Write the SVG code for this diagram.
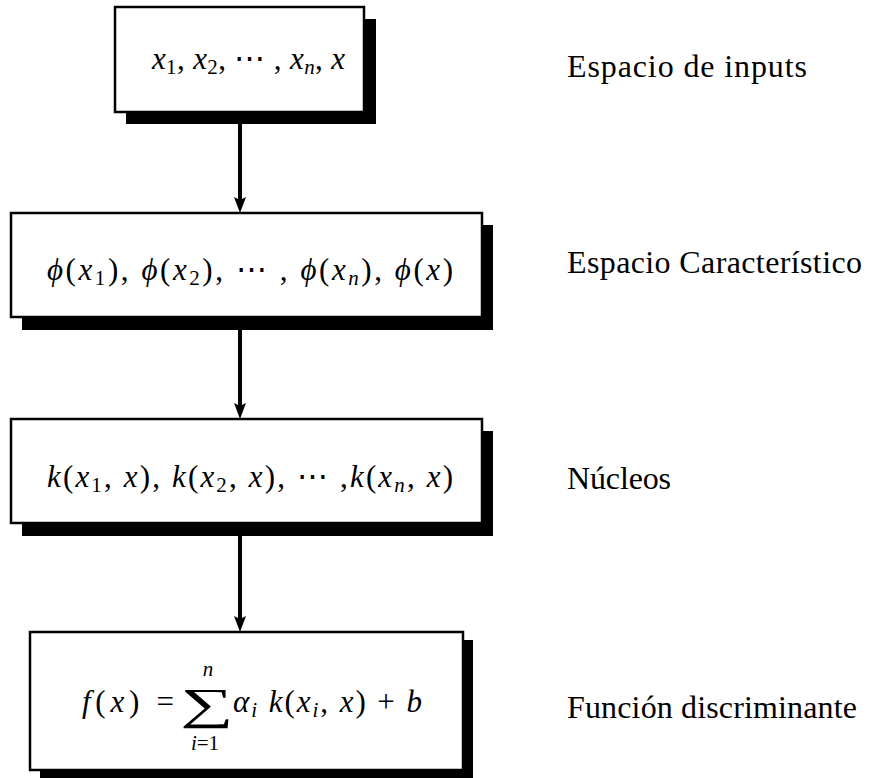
<svg xmlns="http://www.w3.org/2000/svg" width="874" height="778" viewBox="0 0 874 778">
<defs>
<style>
.box{fill:#fff;stroke:#000;stroke-width:2.5}
.sh{fill:#000}
.i{font-style:italic}
.conn line{stroke:#000;stroke-width:4;fill:none}
</style>
<marker id="ah" markerUnits="userSpaceOnUse" viewBox="0 0 16 12" refX="6" refY="6" markerWidth="16" markerHeight="12" orient="auto">
<path d="M0,0 L16,6 L0,12 L3,6 z" fill="#000"/>
</marker>
</defs>
<rect width="874" height="778" fill="#fff"/>
<g class="conn">
<line x1="240" y1="124" x2="240" y2="203" marker-end="url(#ah)"/>
<line x1="240" y1="330" x2="240" y2="409" marker-end="url(#ah)"/>
<line x1="240" y1="536" x2="240" y2="622" marker-end="url(#ah)"/>
</g>
<g font-family="'Liberation Serif', 'DejaVu Serif', serif" font-size="31" fill="#000">
<g id="n1">
<rect class="sh" x="126" y="19" width="250" height="105"/>
<rect class="box" x="115" y="7" width="249" height="105"/>
<text x="152" y="69" textLength="193"><tspan class="i">x</tspan><tspan font-size="21" dy="5">1</tspan><tspan dy="-5">, </tspan><tspan class="i">x</tspan><tspan font-size="21" dy="5">2</tspan><tspan dy="-5">, ⋯ , </tspan><tspan class="i">x</tspan><tspan font-size="21" class="i" dy="5">n</tspan><tspan dy="-5">, </tspan><tspan class="i">x</tspan></text>
</g>
<g id="n2">
<rect class="sh" x="22" y="225" width="471" height="105"/>
<rect class="box" x="11" y="213" width="471" height="104"/>
<text x="47" y="280" textLength="406"><tspan class="i">ϕ</tspan>(<tspan class="i">x</tspan><tspan font-size="21" dy="5">1</tspan><tspan dy="-5">), </tspan><tspan class="i">ϕ</tspan>(<tspan class="i">x</tspan><tspan font-size="21" dy="5">2</tspan><tspan dy="-5">), ⋯ , </tspan><tspan class="i">ϕ</tspan>(<tspan class="i">x</tspan><tspan font-size="21" class="i" dy="5">n</tspan><tspan dy="-5">), </tspan><tspan class="i">ϕ</tspan>(<tspan class="i">x</tspan>)</text>
</g>
<g id="n3">
<rect class="sh" x="22" y="431" width="471" height="105"/>
<rect class="box" x="11" y="419" width="471" height="104"/>
<text x="47" y="487" textLength="406"><tspan class="i">k</tspan>(<tspan class="i">x</tspan><tspan font-size="21" dy="5">1</tspan><tspan dy="-5">, </tspan><tspan class="i">x</tspan>), <tspan class="i">k</tspan>(<tspan class="i">x</tspan><tspan font-size="21" dy="5">2</tspan><tspan dy="-5">, </tspan><tspan class="i">x</tspan>), ⋯ ,<tspan class="i">k</tspan>(<tspan class="i">x</tspan><tspan font-size="21" class="i" dy="5">n</tspan><tspan dy="-5">, </tspan><tspan class="i">x</tspan>)</text>
</g>
<g id="n4">
<rect class="sh" x="40" y="640" width="433" height="138"/>
<rect class="box" x="30" y="632" width="433" height="138"/>
<text x="82" y="712" textLength="92"><tspan class="i">f</tspan>(<tspan class="i">x</tspan>) =</text>
<text transform="translate(207,719) scale(1.7,1)" font-size="44" text-anchor="middle">∑</text>
<text class="i" font-size="21" x="208" y="676" text-anchor="middle">n</text>
<text font-size="21" x="205" y="750" text-anchor="middle"><tspan class="i">i</tspan>=1</text>
<text x="233" y="712" textLength="189"><tspan class="i">α</tspan><tspan font-size="21" class="i" dy="5">i</tspan><tspan dy="-5" class="i"> k</tspan>(<tspan class="i">x</tspan><tspan font-size="21" class="i" dy="5">i</tspan><tspan dy="-5">, </tspan><tspan class="i">x</tspan>) + <tspan class="i">b</tspan></text>
</g>
<g id="labels" font-size="32">
<text x="567" y="77" textLength="240">Espacio de inputs</text>
<text x="567" y="273" textLength="295">Espacio Característico</text>
<text x="567" y="489" textLength="104">Núcleos</text>
<text x="567" y="718" textLength="290">Función discriminante</text>
</g>
</g>
</svg>
